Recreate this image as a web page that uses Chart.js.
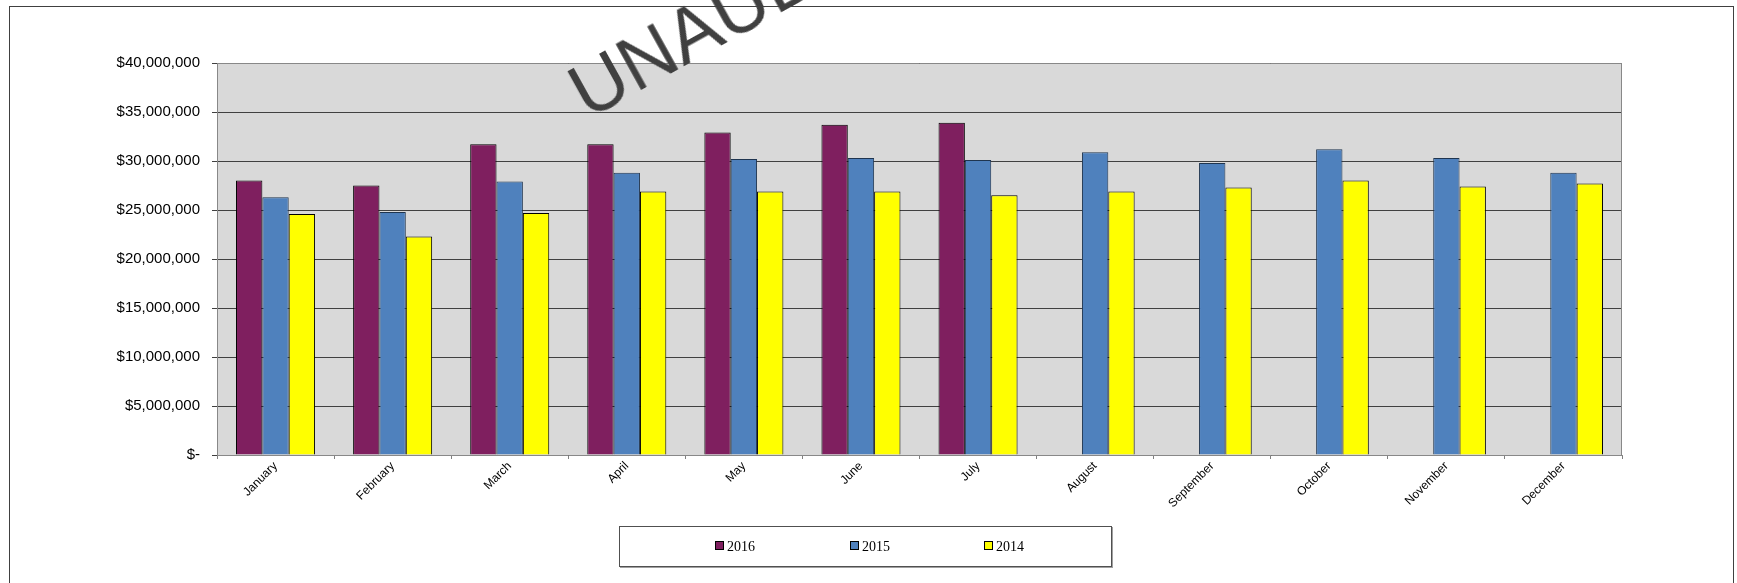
<!DOCTYPE html>
<html>
<head>
<meta charset="utf-8">
<script src="https://cdn.jsdelivr.net/npm/chart.js@4.4.1/dist/chart.umd.min.js"></script>
<style>
  html, body { margin: 0; padding: 0; background: #fff; overflow: hidden; }
  #wrap { position: relative; width: 1737px; height: 583px; overflow: hidden; }
  #frame { position: absolute; left: 9px; top: 6px; width: 1725px; height: 620px; border: 1px solid #404040; box-sizing: border-box; }
  canvas { position: absolute; left: 0; top: 0; }
  #legend { position: absolute; left: 619px; top: 526px; width: 493px; height: 41px; box-sizing: border-box;
            border: 1px solid #505050; box-shadow: 1px 1px 0 #a0a0a0; background: #fff; }
  .item { position: absolute; top: 12px; font-family: "Liberation Serif", "Times New Roman", serif; font-size: 14px; line-height: 16px; color: #000; white-space: nowrap; }
  .sw { display: inline-block; width: 7px; height: 7px; border: 1px solid #000; margin-right: 3px; vertical-align: 1px; }
  #wm { position: absolute; left: 590px; top: 55px; font-family: "Liberation Sans", Arial, sans-serif; font-size: 76px;
        line-height: 1; color: #404040; white-space: nowrap; transform-origin: 0 69px; transform: rotate(-29deg); }
</style>
</head>
<body>
<div id="wrap">
  <div id="frame"></div>
  <canvas id="c" width="1737" height="583"></canvas>
  <div id="wm">UNAUDITED</div>
  <div id="legend"></div>
</div>
<script>
const months = ['January','February','March','April','May','June','July','August','September','October','November','December'];
const seriesNames = ['2016', '2015', '2014'];
const values2016 = [28000000, 27500000, 31700000, 31700000, 32900000, 33700000, 33900000, null, null, null, null, null];
const values2015 = [26300000, 24800000, 27900000, 28800000, 30200000, 30300000, 30100000, 30900000, 29800000, 31200000, 30300000, 28800000];
const values2014 = [24600000, 22300000, 24700000, 26900000, 26900000, 26900000, 26500000, 26900000, 27300000, 28000000, 27400000, 27700000];
const yTickLabels = ['$-', '$5,000,000', '$10,000,000', '$15,000,000', '$20,000,000', '$25,000,000', '$30,000,000', '$35,000,000', '$40,000,000'];
const seriesColors = ['#7f1f5f', '#4f81bd', '#ffff00'];
const seriesBorders = ['#000000', '#1f3550', '#000000'];

const plotBg = {
  id: 'plotBg',
  beforeDraw(chart) {
    const a = chart.chartArea, ctx = chart.ctx;
    ctx.save();
    ctx.fillStyle = '#d9d9d9';
    ctx.fillRect(a.left, a.top, a.right - a.left, a.bottom - a.top);
    ctx.restore();
  },
  afterDraw(chart) {
    const a = chart.chartArea, ctx = chart.ctx;
    ctx.save();
    ctx.strokeStyle = '#888888';
    ctx.lineWidth = 1;
    ctx.beginPath();
    ctx.moveTo(a.left, a.top + 0.5); ctx.lineTo(a.right, a.top + 0.5);
    ctx.moveTo(a.right - 0.5, a.top); ctx.lineTo(a.right - 0.5, a.bottom);
    ctx.stroke();
    ctx.restore();
  }
};

const datasetsSrc = [values2016, values2015, values2014];
const chart = new Chart(document.getElementById('c'), {
  type: 'bar',
  data: {
    labels: months,
    datasets: datasetsSrc.map((v, i) => ({
      label: seriesNames[i],
      data: v,
      backgroundColor: seriesColors[i],
      borderColor: seriesBorders[i],
      borderWidth: 1,
      borderSkipped: 'bottom',
      categoryPercentage: 0.675,
      barPercentage: 1.0
    }))
  },
  options: {
    responsive: false,
    animation: false,
    events: [],
    layout: { padding: { top: 63, right: 115, left: 0, bottom: 0 } },
    plugins: { legend: { display: false }, tooltip: { enabled: false } },
    scales: {
      x: {
        grid: { display: true, drawOnChartArea: false, drawTicks: true, tickLength: 4, color: '#808080', offset: true },
        border: { display: true, color: '#888888', width: 1 },
        ticks: { minRotation: 45, maxRotation: 45, padding: 0, color: '#000', font: { family: '"Liberation Sans", Arial, sans-serif', size: 12 } },
        afterFit(s) { s.height = 128; }
      },
      y: {
        min: 0, max: 40000000,
        grid: { color: '#404040', lineWidth: 1, tickLength: 5, drawTicks: true },
        border: { display: true, color: '#888888', width: 1 },
        ticks: {
          stepSize: 5000000, padding: 12, color: '#000',
          font: { family: '"Liberation Sans", Arial, sans-serif', size: 15 },
          callback: (v, i) => yTickLabels[i]
        },
        afterFit(s) { s.width = 217; }
      }
    }
  },
  plugins: [plotBg]
});

const legend = document.getElementById('legend');
const legendLefts = [95, 230, 364];
seriesNames.forEach((n, i) => {
  const it = document.createElement('div');
  it.className = 'item';
  it.style.left = legendLefts[i] + 'px';
  const sw = document.createElement('span');
  sw.className = 'sw';
  sw.style.background = seriesColors[i];
  it.appendChild(sw);
  it.appendChild(document.createTextNode(n));
  legend.appendChild(it);
});
</script>
</body>
</html>
